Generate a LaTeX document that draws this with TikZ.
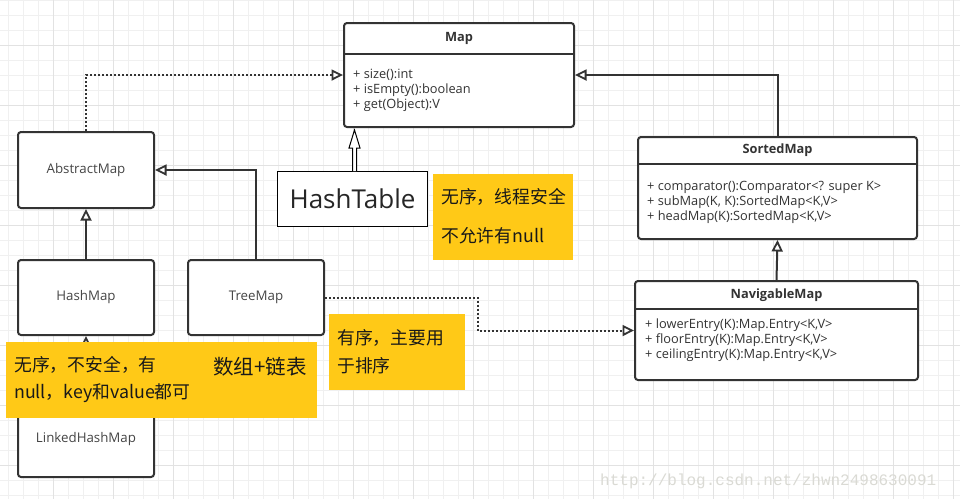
\documentclass[tikz,border=0pt]{standalone}
\usepackage{fontspec}
\setmainfont{Open Sans}
\newfontfamily\cjk{Noto Sans CJK SC}
\newfontfamily\wmfont{Liberation Mono}
\usetikzlibrary{arrows.meta,calc}
\definecolor{linec}{HTML}{333333}
\definecolor{gridminor}{HTML}{F0F0F0}
\definecolor{gridmajor}{HTML}{E2E2E2}
\definecolor{noteyellow}{HTML}{FFC917}
\definecolor{txtc}{HTML}{333333}
\definecolor{namec}{HTML}{454545}
\definecolor{wmc}{HTML}{DADAD4}
\begin{document}
\begin{tikzpicture}[x=1pt,y=-1pt,
  umlbox/.style={draw=linec,line width=2pt,rounded corners=3pt,fill=white,anchor=north west,inner sep=0pt},
  clsname/.style={font=\fontsize{13.3}{15}\selectfont,text=namec},
  title/.style={font=\bfseries\fontsize{12.8}{15}\selectfont,text=txtc},
  attr/.style={font=\fontsize{12.8}{15}\selectfont,text=txtc,align=left,inner sep=0pt,anchor=base west},
  sep/.style={draw=linec,line width=2pt},
  inh/.style={draw=linec,line width=2pt,-{Triangle[fill=white,length=11.5pt,width=11pt,line width=1.8pt]}},
  dots/.style={dash pattern=on 2pt off 2pt},
  note/.style={fill=noteyellow,anchor=north west,inner sep=0pt,draw=none},
  notetext/.style={font=\cjk\fontsize{17.8}{20}\selectfont,text=black!90,anchor=west,inner sep=0pt}
]
\useasboundingbox (0,0) rectangle (960,499);
\fill[white] (0,0) rectangle (960,499);
% grid
\foreach \x in {8,23,...,960} \draw[gridminor,line width=1pt] (\x,0) -- (\x,499);
\foreach \y in {0,15,...,499} \draw[gridminor,line width=1pt] (0,\y) -- (960,\y);
\foreach \x in {53,113,...,960} \draw[gridmajor,line width=1pt] (\x,0) -- (\x,499);
\foreach \y in {45,105,...,499} \draw[gridmajor,line width=1pt] (0,\y) -- (960,\y);

% watermark
\node[font=\wmfont\fontsize{16}{18}\selectfont,text=wmc,anchor=base west,inner sep=0pt] (wm) at (600,485) {http://blog.csdn.net/zhwn2498630091};

% Map
\node[umlbox,minimum width=230,minimum height=104] (map) at (343,22) {};
\draw[sep] ($(map.north west)+(0,32)$) -- ($(map.north east)+(0,32)$);
\node[title] (maptitle) at ($(map.north)+(0,16)$) {Map};
\node[attr] (mapattr) at ($(map.north west)+(10,86)$) {+ size():int\\+ isEmpty():boolean\\+ get(Object):V};

% SortedMap
\node[umlbox,minimum width=279,minimum height=102] (sorted) at (637,136) {};
\draw[sep] ($(sorted.north west)+(0,28)$) -- ($(sorted.north east)+(0,28)$);
\node[title] (sortedtitle) at ($(sorted.north)+(0,14)$) {SortedMap};
\node[attr] (sortedattr) at ($(sorted.north west)+(10,84)$) {+ comparator():Comparator<? super K>\\+ subMap(K, K):SortedMap<K,V>\\+ headMap(K):SortedMap<K,V>};

% NavigableMap
\node[umlbox,minimum width=283,minimum height=99] (nav) at (634,280) {};
\draw[sep] ($(nav.north west)+(0,29)$) -- ($(nav.north east)+(0,29)$);
\node[title] (navtitle) at ($(nav.north)+(0,15)$) {NavigableMap};
\node[attr] (navattr) at ($(nav.north west)+(11,78)$) {+ lowerEntry(K):Map.Entry<K,V>\\+ floorEntry(K):Map.Entry<K,V>\\+ ceilingEntry(K):Map.Entry<K,V>};

% simple classes
\node[umlbox,minimum width=136,minimum height=76,clsname] (abs) at (17,131) {AbstractMap};
\node[umlbox,minimum width=136,minimum height=75,clsname] (hm) at (17,259) {HashMap};
\node[umlbox,minimum width=136,minimum height=75,clsname] (tm) at (187,259) {TreeMap};
\node[umlbox,minimum width=136,minimum height=76,clsname] (lhm) at (17,400) {LinkedHashMap};

% HashTable
\node[draw=black,line width=1pt,fill=white,anchor=north west,minimum width=150,minimum height=55,inner sep=0pt,font=\fontsize{26}{30}\selectfont,text=black!85] (ht) at (277,171) {HashTable};

% connectors
\coordinate (bendx) at (478,300);
\draw[inh,dots] (abs.north) |- (map.west);
\draw[inh] (sorted.north) |- (map.east);
\draw[inh] (hm.north) -- (abs.south);
\draw[inh] (tm.north) |- (abs.east);
\draw[inh] (lhm.north) -- (hm.south);
\draw[inh] (nav.north) -- (sorted.south);
\draw[inh,dots] (tm.east) -- (tm.east -| bendx) |- (nav.west);
\coordinate (hta) at ($(ht.north)+(2,0)$);
\draw[black,line width=1pt,fill=white,line join=miter]
  ($(hta)+(-2,0)$) -- ($(hta)+(-2,-23)$) -- ($(hta)+(-5.5,-23)$) -- ($(hta |- map.south)+(0,2)$)
  -- ($(hta)+(5.5,-23)$) -- ($(hta)+(2,-23)$) -- ($(hta)+(2,0)$);

% notes
\node[note,minimum width=140,minimum height=86] (n1) at (433,174) {};
\node[notetext] (n1a) at ($(n1.north west)+(8,23)$) {无序，线程安全};
\node[notetext] (n1b) at ($(n1.north west)+(8,62)$) {不允许有null};

\node[note,minimum width=311,minimum height=76] (n2) at (6,342) {};
\node[notetext] (n2a) at ($(n2.north west)+(8,23)$) {无序，不安全，有};
\node[notetext] (n2b) at ($(n2.north west)+(8,51)$) {null，key和value都可};
\node[notetext,font=\cjk\fontsize{20.5}{23}\selectfont] (n2c) at ($(n2.north west)+(207,25)$) {数组+链表};

\node[note,minimum width=136,minimum height=76] (n3) at (329,314) {};
\node[notetext] (n3a) at ($(n3.north west)+(8,24)$) {有序，主要用};
\node[notetext] (n3b) at ($(n3.north west)+(8,52)$) {于排序};
\end{tikzpicture}
\end{document}
